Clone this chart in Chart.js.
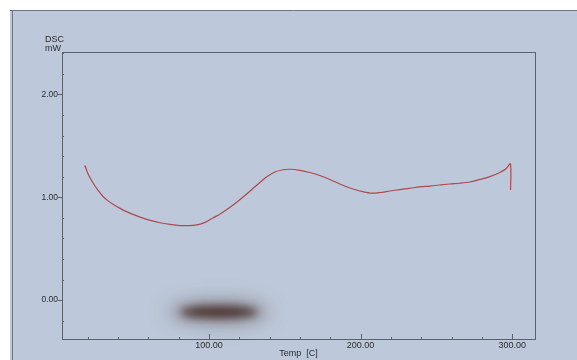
<!DOCTYPE html>
<html>
<head>
<meta charset="utf-8">
<title>DSC</title>
<script src="https://cdn.jsdelivr.net/npm/chart.js@4.4.1/dist/chart.umd.min.js"></script>
<style>
  html, body { margin: 0; padding: 0; background: #ffffff; }
  #wrap { width: 577px; height: 360px; position: relative; }
</style>
</head>
<body>
<div id="wrap"><canvas id="dsc" width="577" height="360"></canvas></div>
<script>
// DSC heat-flow trace, temperature in C against signal in mW
const temperatureC = [18.1, 18.4, 18.8, 20.3, 23.6, 26.9, 30.2, 33.5, 36.8, 41.4, 46.0, 51.2,
  56.5, 62.0, 67.7, 74.3, 80.9, 86.5, 92.1, 97.4, 102.6, 107.9, 113.2, 118.5, 123.7,
  129.0, 134.3, 138.9, 143.5, 148.1, 153.4, 160.0, 166.6, 173.1, 179.7, 186.3, 192.9,
  199.5, 206.1, 212.7, 219.3, 225.9, 232.5, 239.0, 245.6, 252.2, 258.8, 265.4, 272.0,
  278.6, 285.2, 291.8, 295.7, 298.8, 298.9];
const heatFlowMW = [1.29, 1.305, 1.285, 1.226, 1.138, 1.066, 1.007, 0.965, 0.931, 0.892, 0.858, 0.826,
  0.797, 0.773, 0.752, 0.736, 0.725, 0.724, 0.732, 0.756, 0.798, 0.842, 0.895, 0.954, 1.017,
  1.085, 1.153, 1.207, 1.245, 1.265, 1.272, 1.262, 1.241, 1.211, 1.173, 1.129, 1.090,
  1.061, 1.041, 1.046, 1.061, 1.075, 1.087, 1.100, 1.109, 1.119, 1.129, 1.136, 1.148,
  1.173, 1.200, 1.241, 1.275, 1.325, 1.07];

// axis ranges and tick spacing
const xRange = [3.1, 315.0];
const yRange = [-0.378, 2.412];
const xMajorTicks = [100, 200, 300];
const xMinorStep = 20;
const yMajorTicks = [0, 1, 2];
const yMinorStep = 0.2;

// ink smudge lying on the sheet, in data units: centre and half-extents
const smudge = { x: 106.5, y: -0.116, rx: 26, ry: 0.06 };

const points = temperatureC.map((t, i) => ({ x: t, y: heatFlowMW[i] }));

const paper = {
  id: 'paper',
  beforeDraw(chart) {
    const ctx = chart.ctx;
    const w = chart.width, h = chart.height;
    ctx.save();
    ctx.fillStyle = '#ffffff';
    ctx.fillRect(0, 0, w, h);
    ctx.fillStyle = '#bdc9da';
    ctx.fillRect(10, 10, w - 10, h - 10);
    ctx.strokeStyle = 'rgba(90,95,105,0.8)';
    ctx.lineWidth = 1;
    ctx.beginPath();
    ctx.moveTo(10, 10.5); ctx.lineTo(w, 10.5);
    ctx.moveTo(12.5, 10); ctx.lineTo(12.5, h);
    ctx.stroke();
    ctx.restore();
  },
  beforeDatasetsDraw(chart) {
    const ctx = chart.ctx;
    const xs = chart.scales.x, ys = chart.scales.y;
    const cx = xs.getPixelForValue(smudge.x);
    const cy = ys.getPixelForValue(smudge.y);
    const rx = xs.getPixelForValue(smudge.x + smudge.rx) - cx;
    const ry = cy - ys.getPixelForValue(smudge.y + smudge.ry);
    ctx.save();
    ctx.filter = 'blur(10px)';
    ctx.fillStyle = 'rgba(85,60,55,0.4)';
    ctx.beginPath();
    ctx.ellipse(cx, cy, rx * 1.3, ry * 1.9, 0, 0, Math.PI * 2);
    ctx.fill();
    ctx.filter = 'blur(5px)';
    ctx.fillStyle = 'rgba(62,38,32,0.9)';
    ctx.beginPath();
    ctx.ellipse(cx, cy, rx, ry, 0, 0, Math.PI * 2);
    ctx.fill();
    ctx.restore();
  },
  afterDraw(chart) {
    const ctx = chart.ctx;
    const a = chart.chartArea;
    const xs = chart.scales.x, ys = chart.scales.y;
    ctx.save();
    // plot frame
    ctx.strokeStyle = '#5c6068';
    ctx.lineWidth = 1;
    ctx.strokeRect(Math.round(a.left) + 0.5, Math.round(a.top) + 0.5,
      Math.round(a.right - a.left), Math.round(a.bottom - a.top));
    ctx.beginPath();
    // y ticks: majors outside, minors inside
    for (let v = Math.ceil(yRange[0] / yMinorStep) * yMinorStep; v <= yRange[1]; v += yMinorStep) {
      const py = Math.round(ys.getPixelForValue(v)) + 0.5;
      const major = yMajorTicks.some(m => Math.abs(m - v) < 1e-6);
      if (major) { ctx.moveTo(a.left - 4, py); ctx.lineTo(a.left, py); }
      else { ctx.moveTo(a.left, py); ctx.lineTo(a.left + 2, py); }
    }
    // x ticks, drawn upward into the plot
    for (let v = Math.ceil(xRange[0] / xMinorStep) * xMinorStep; v <= xRange[1]; v += xMinorStep) {
      const px = Math.round(xs.getPixelForValue(v)) + 0.5;
      const major = xMajorTicks.some(m => Math.abs(m - v) < 1e-6);
      ctx.moveTo(px, a.bottom);
      ctx.lineTo(px, a.bottom - (major ? 5 : 2));
    }
    ctx.stroke();
    // axis captions
    ctx.fillStyle = '#2a2c30';
    ctx.font = '9px "Liberation Sans", Arial, sans-serif';
    ctx.textAlign = 'left';
    ctx.textBaseline = 'alphabetic';
    ctx.fillText('DSC', 45, 41.5);
    ctx.fillText('mW', 45, 50.5);
    ctx.textAlign = 'center';
    ctx.fillText('Temp  [C]', (a.left + a.right) / 2, 356);
    ctx.restore();
  }
};

new Chart(document.getElementById('dsc'), {
  type: 'scatter',
  data: {
    datasets: [{
      data: points,
      showLine: true,
      borderColor: '#ad4a4c',
      borderWidth: 1.2,
      pointRadius: 0,
      tension: 0.3,
      fill: false
    }]
  },
  plugins: [paper],
  options: {
    responsive: false,
    animation: false,
    devicePixelRatio: 1,
    layout: { padding: { top: 52, right: 42, left: 0, bottom: 0 } },
    plugins: { legend: { display: false }, tooltip: { enabled: false } },
    scales: {
      x: {
        type: 'linear',
        min: xRange[0], max: xRange[1],
        afterFit(scale) { scale.height = 21; },
        grid: { display: false, drawTicks: false },
        border: { display: false },
        afterBuildTicks(scale) { scale.ticks = xMajorTicks.map(v => ({ value: v })); },
        ticks: {
          padding: 1,
          color: '#2a2c30',
          font: { family: '"Liberation Sans", Arial, sans-serif', size: 9 },
          maxRotation: 0,
          callback: v => Number(v).toFixed(2)
        }
      },
      y: {
        type: 'linear',
        min: yRange[0], max: yRange[1],
        afterFit(scale) { scale.width = 62; },
        grid: { display: false, drawTicks: false },
        border: { display: false },
        afterBuildTicks(scale) { scale.ticks = yMajorTicks.map(v => ({ value: v })); },
        ticks: {
          padding: 4,
          color: '#2a2c30',
          font: { family: '"Liberation Sans", Arial, sans-serif', size: 8.5 },
          callback: v => Number(v).toFixed(2)
        }
      }
    }
  }
});
</script>
</body>
</html>
